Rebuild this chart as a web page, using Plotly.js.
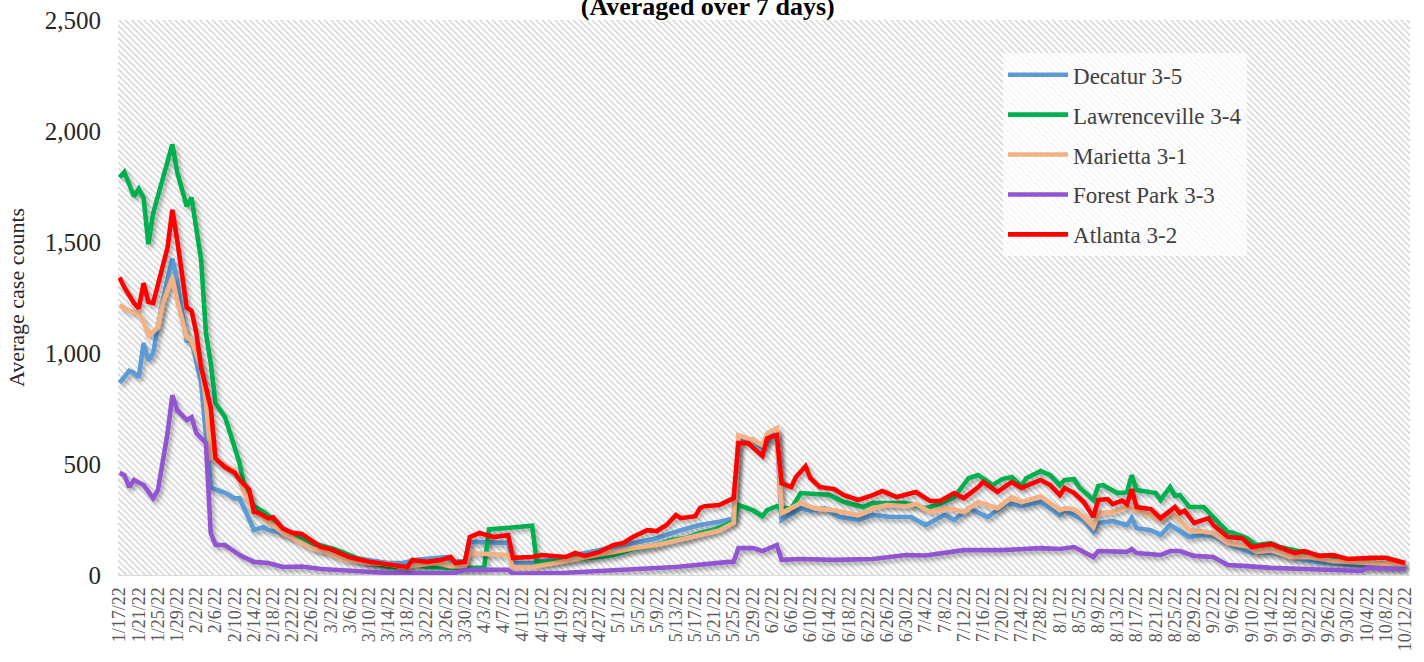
<!DOCTYPE html>
<html>
<head>
<meta charset="utf-8">
<script src="https://cdn.plot.ly/plotly-3.0.1.min.js"></script>
<style>html,body{margin:0;padding:0;background:#fff;} #chart{width:1424px;height:662px;}</style>
</head>
<body>
<div id="chart"></div>
<script>
const YEAR = 2022;
const seriesNames = ['Decatur 3-5', 'Lawrenceville 3-4', 'Marietta 3-1', 'Forest Park 3-3', 'Atlanta 3-2'];
const seriesColors = ['#5B9BD5', '#00B050', '#F4B183', '#9254D2', '#FF0000'];

const decaturDates = ['1/17','1/19','1/20','1/21','1/22','1/23','1/24','1/26','1/28','1/29','1/31',
  '2/1','2/3','2/4','2/5','2/6','2/8','2/10','2/11','2/12','2/14','2/16','2/17','2/20','2/23','2/27',
  '3/3','3/7','3/14','3/17','3/20','3/24','3/26','3/28','3/30','3/31',
  '4/8','4/9','4/13','4/19','4/27',
  '5/4','5/9','5/14','5/18','5/22','5/25','5/26','5/29','5/31',
  '6/1','6/3','6/4','6/5','6/8','6/10','6/13','6/16','6/20','6/23','6/27',
  '7/1','7/4','7/8','7/10','7/13','7/17','7/21','7/24','7/28',
  '8/1','8/2','8/4','8/6','8/8','8/9','8/12','8/15','8/16','8/17','8/20','8/22','8/24','8/26','8/28','8/31',
  '9/2','9/5','9/10','9/14','9/19','9/24','9/30',
  '10/5','10/12'];
const decaturValues = [865,920,910,890,1045,965,1000,1235,1425,1325,1055,
  1055,865,640,395,385,370,345,345,300,202,216,202,189,166,121,
  99,77,54,54,68,77,81,59,68,149,
  144,54,54,77,112,
  144,166,202,225,240,255,616,608,571,
  600,652,248,260,301,290,301,261,248,270,261,
  261,225,270,248,301,261,324,310,329,
  270,292,270,247,194,234,243,225,256,211,202,180,225,196,171,180,
  175,140,100,100,75,58,45,
  40,36];

const lawrencevilleDates = ['1/17','1/18','1/19','1/20','1/21','1/22','1/23','1/24','1/28','1/29','1/31',
  '2/1','2/3','2/4','2/5','2/6','2/8','2/10','2/11','2/12','2/14','2/16','2/18','2/20','2/23','2/26',
  '3/3','3/7','3/10','3/14','3/17','3/19','3/22','3/28',
  '4/3','4/4','4/9','4/13','4/14','4/19','4/23','4/27','4/30',
  '5/4','5/7','5/9','5/12','5/15','5/18','5/21','5/25','5/26','5/29','5/31',
  '6/1','6/3','6/4','6/6','6/8','6/12','6/14','6/17','6/21','6/23','6/30',
  '7/4','7/7','7/10','7/13','7/15','7/18','7/20','7/22','7/24','7/25','7/28','7/30',
  '8/1','8/2','8/4','8/5','8/8','8/9','8/10','8/11','8/13','8/15','8/16','8/17','8/19','8/21','8/22','8/24','8/25','8/26','8/28','8/31',
  '9/2','9/5','9/6','9/9','9/11','9/14','9/16','9/20','9/24','9/28',
  '10/2','10/6','10/12'];
const lawrencevilleValues = [1790,1815,1760,1705,1740,1700,1490,1630,1940,1815,1660,
  1700,1420,1090,955,775,710,575,505,400,310,285,250,195,175,145,
  115,81,54,36,36,45,36,32,
  32,205,216,222,55,63,72,81,90,
  117,126,135,158,166,189,205,240,315,292,265,
  292,310,300,300,369,360,360,329,306,324,324,
  301,320,351,436,450,405,432,441,401,436,468,450,
  405,428,432,396,338,401,405,392,369,372,450,383,378,369,338,396,356,360,306,306,
  261,194,190,166,135,144,125,105,85,70,
  60,55,45];

const mariettaDates = ['1/17','1/19','1/21','1/22','1/23','1/25','1/26','1/28','1/29','1/31',
  '2/1','2/3','2/4','2/5','2/7','2/10','2/11','2/12','2/14','2/16','2/18','2/20','2/23','2/26',
  '3/1','3/5','3/10','3/14','3/17','3/21','3/24','3/27','3/30','3/31',
  '4/8','4/9','4/13','4/19','4/27',
  '5/4','5/9','5/14','5/18','5/22','5/25','5/26','5/29','5/31',
  '6/1','6/3','6/4','6/8','6/11','6/15','6/20','6/23','6/26','6/30',
  '7/2','7/5','7/9','7/12','7/15','7/19','7/22','7/24','7/28',
  '8/1','8/2','8/4','8/6','8/8','8/9','8/12','8/15','8/17','8/20','8/22','8/24','8/26','8/28','8/31',
  '9/2','9/5','9/9','9/11','9/14','9/18','9/22','9/27',
  '10/5','10/12'];
const mariettaValues = [1215,1190,1180,1140,1080,1115,1225,1340,1235,1070,
  1055,935,785,530,505,470,428,370,290,260,225,190,158,121,
  104,68,54,50,36,45,54,40,40,99,
  90,36,36,59,90,
  121,135,158,180,200,235,630,608,585,
  639,661,279,324,300,292,270,301,315,310,
  320,284,301,284,329,301,351,329,355,
  292,300,297,261,216,279,283,306,292,270,247,283,247,202,196,
  189,144,130,104,112,81,81,63,
  54,45];

const forestParkDates = ['1/17','1/18','1/19','1/20','1/22','1/24','1/25','1/27','1/28','1/29','1/31',
  '2/1','2/2','2/4','2/5','2/6','2/8','2/11','2/14','2/17','2/20','2/24','2/28',
  '3/2','3/14','3/28','3/30',
  '4/8','4/9','4/20','4/27',
  '5/7','5/13','5/24','5/25','5/26','5/29','5/31',
  '6/3','6/4','6/8','6/15','6/23','6/30',
  '7/4','7/12','7/20','7/28',
  '8/1','8/4','8/8','8/9','8/15','8/16','8/17','8/22','8/24','8/26','8/29',
  '9/2','9/5','9/9','9/14','9/21','9/28',
  '10/3','10/4','10/12'];
const forestParkValues = [460,450,396,428,405,346,383,639,810,743,698,
  711,639,594,189,135,135,90,59,54,36,38,27,
  25,9,9,23,
  23,5,10,18,
  27,36,59,59,121,121,108,
  135,68,72,68,72,90,
  88,112,112,121,
  117,126,81,108,104,117,99,90,108,108,86,
  81,45,40,32,27,22,
  18,32,27];

const atlantaDates = ['1/17','1/18','1/20','1/21','1/22','1/23','1/24','1/27','1/28','1/29','1/31',
  '2/1','2/2','2/3','2/5','2/6','2/8','2/10','2/11','2/13','2/14','2/15','2/17','2/18','2/20','2/22','2/24','2/26','2/28',
  '3/2','3/4','3/6','3/10','3/14','3/16','3/18','3/19','3/22','3/25','3/27','3/28','3/30','3/31',
  '4/2','4/5','4/8','4/9','4/11','4/13','4/15','4/18','4/20','4/22','4/24','4/27','4/30',
  '5/2','5/4','5/7','5/9','5/11','5/13','5/14','5/17','5/18','5/19','5/22','5/24','5/25','5/26','5/28','5/31',
  '6/1','6/3','6/4','6/6','6/7','6/9','6/10','6/12','6/15','6/17','6/20','6/23','6/25','6/28','6/30',
  '7/2','7/5','7/7','7/10','7/12','7/15','7/16','7/19','7/22','7/24','7/28','7/30',
  '8/1','8/2','8/4','8/6','8/8','8/9','8/11','8/12','8/14','8/15','8/16','8/17','8/20','8/22','8/25','8/26','8/27','8/29',
  '9/1','9/2','9/5','9/8','9/10','9/14','9/16','9/19','9/21','9/24','9/27','9/30',
  '10/5','10/8','10/12'];
const atlantaValues = [1340,1295,1225,1200,1315,1230,1225,1475,1645,1510,1205,
  1190,1090,935,755,525,485,460,430,385,285,280,255,260,210,190,185,158,126,
  117,99,80,60,50,40,36,68,59,68,81,54,59,171,
  189,171,180,77,77,81,90,86,81,99,86,104,135,
  144,171,202,198,225,270,256,265,301,310,315,338,346,594,594,536,
  616,630,414,396,441,490,436,396,387,360,338,360,378,351,364,
  374,333,333,369,346,396,419,374,419,392,428,405,
  360,392,369,329,261,338,342,319,335,319,387,306,297,256,306,279,290,234,
  256,225,171,166,126,139,121,99,108,86,90,72,
  77,77,54];

const yTickValues = [0, 500, 1000, 1500, 2000, 2500];

const seriesDates = [decaturDates, lawrencevilleDates, mariettaDates, forestParkDates, atlantaDates];
const seriesValues = [decaturValues, lawrencevilleValues, mariettaValues, forestParkValues, atlantaValues];

function toISO(md) {
  const parts = md.split('/');
  return YEAR + '-' + parts[0].padStart(2, '0') + '-' + parts[1].padStart(2, '0');
}

seriesDates.forEach((d, i) => {
  if (d.length !== seriesValues[i].length) {
    throw new Error('Length mismatch for ' + seriesNames[i] + ': ' + d.length + ' dates vs ' + seriesValues[i].length + ' values');
  }
});

const FONT = 'Liberation Serif';
const W = 1424, H = 662;
const M = {l: 118, r: 14, t: 20, b: 87};
const pw = W - M.l - M.r, ph = H - M.t - M.b;

const hatchSvg = '<svg xmlns="http://www.w3.org/2000/svg" width="' + pw + '" height="' + ph + '">' +
  '<defs><pattern id="h" width="4.4" height="4.4" patternUnits="userSpaceOnUse" patternTransform="rotate(-45)">' +
  '<rect width="4.4" height="4.4" fill="#ffffff"/><rect width="1.4" height="4.4" fill="#d2d2d2"/></pattern></defs>' +
  '<rect width="100%" height="100%" fill="url(#h)"/></svg>';
const hatchSrc = 'data:image/svg+xml;charset=utf-8,' + encodeURIComponent(hatchSvg);

const traces = seriesNames.map((name, i) => ({
  type: 'scatter',
  mode: 'lines',
  name: name,
  legendgroup: 'g' + i,
  x: seriesDates[i].map(toISO),
  y: seriesValues[i],
  line: {color: seriesColors[i], width: 4.6},
  hoverinfo: 'skip'
}));

const layout = {
  width: W, height: H,
  margin: M,
  paper_bgcolor: '#ffffff',
  plot_bgcolor: '#ffffff',
  showlegend: true,
  hovermode: false,
  font: {family: FONT},
  title: {
    text: '<b>(Averaged over 7 days)</b>',
    font: {family: FONT, size: 26, color: '#000000'},
    xref: 'container', x: 0.497, xanchor: 'center',
    yref: 'container', y: 0.9905, yanchor: 'middle'
  },
  xaxis: {
    type: 'date',
    range: ['2022-01-16 16:00', '2022-10-13 00:00'],
    tick0: '2022-01-17',
    dtick: 4 * 86400000,
    tickformat: '%-m/%-d/%y',
    tickangle: -90,
    tickfont: {family: FONT, size: 18, color: '#595959'},
    ticklabelstandoff: 4,
    showgrid: false,
    zeroline: false,
    showline: true,
    linecolor: '#d9d9d9',
    linewidth: 1,
    ticks: '',
    fixedrange: true
  },
  yaxis: {
    range: [0, 2500],
    tickvals: yTickValues,
    tickformat: ',',
    tickfont: {family: FONT, size: 25, color: '#262626'},
    ticklabelstandoff: 16,
    showgrid: false,
    zeroline: false,
    showline: false,
    ticks: '',
    title: {text: 'Average case counts', font: {family: FONT, size: 22, color: '#262626'}, standoff: 14},
    fixedrange: true
  },
  legend: {
    x: 0.685, xanchor: 'left',
    y: 0.94, yanchor: 'top',
    bgcolor: 'rgba(255,255,255,0.75)',
    borderwidth: 0,
    font: {family: FONT, size: 23, color: '#404040'},
    itemwidth: 60,
    traceorder: 'grouped',
    tracegroupgap: 7
  },
  images: [{
    source: hatchSrc,
    xref: 'paper', yref: 'paper',
    x: 0, y: 1, sizex: 1, sizey: 1,
    xanchor: 'left', yanchor: 'top',
    sizing: 'stretch',
    layer: 'below'
  }]
};

Plotly.newPlot('chart', traces, layout, {staticPlot: true, displayModeBar: false}).then(gd => {
  const ns = 'http://www.w3.org/2000/svg';
  const svg = gd.querySelector('.main-svg');
  let defs = svg.querySelector('defs');
  if (!defs) { defs = document.createElementNS(ns, 'defs'); svg.insertBefore(defs, svg.firstChild); }
  const f = document.createElementNS(ns, 'filter');
  f.setAttribute('id', 'lineShadow');
  f.setAttribute('filterUnits', 'userSpaceOnUse');
  f.setAttribute('x', '-60'); f.setAttribute('y', '-60');
  f.setAttribute('width', String(W + 120)); f.setAttribute('height', String(H + 120));
  const ds = document.createElementNS(ns, 'feDropShadow');
  ds.setAttribute('dx', '2.5'); ds.setAttribute('dy', '3');
  ds.setAttribute('stdDeviation', '2');
  ds.setAttribute('flood-color', '#000000');
  ds.setAttribute('flood-opacity', '0.33');
  f.appendChild(ds);
  defs.appendChild(f);
  gd.querySelectorAll('.scatterlayer .trace').forEach(t => t.setAttribute('filter', 'url(#lineShadow)'));
});
</script>
</body>
</html>
